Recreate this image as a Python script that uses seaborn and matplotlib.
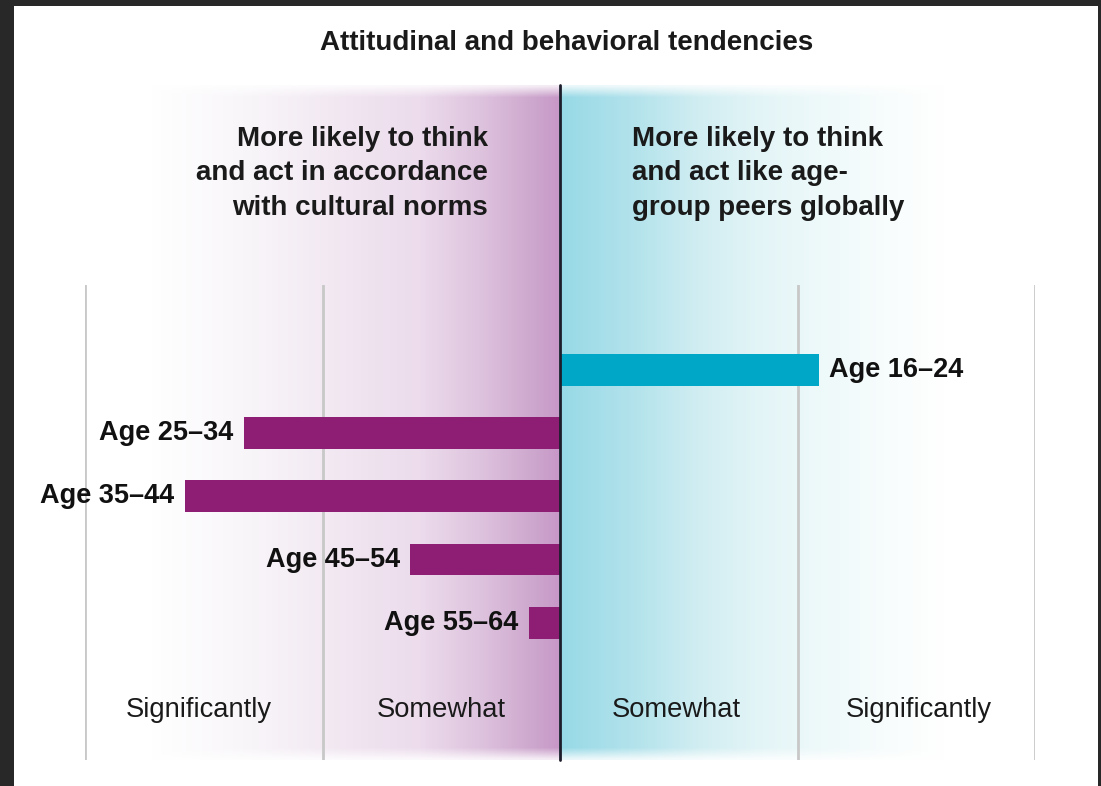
import numpy as np
import pandas as pd
import matplotlib
matplotlib.use("Agg")
import matplotlib.pyplot as plt
from matplotlib.colors import LinearSegmentedColormap, to_rgb
from matplotlib.patches import Rectangle
import seaborn as sns

# ---- data ----
age_groups = ["Age 16\u201324", "Age 25\u201334", "Age 35\u201344", "Age 45\u201354", "Age 55\u201364"]
scores = [1.09, -1.33, -1.58, -0.63, -0.13]
bar_colors = ["#00a7c6", "#8e1d74", "#8e1d74", "#8e1d74", "#8e1d74"]
scale_labels = ["Significantly", "Somewhat", "Somewhat", "Significantly"]
scale_centers = [-1.52, -0.5, 0.49, 1.51]
title = "Attitudinal and behavioral tendencies"
left_header = ["More likely to think", "and act in accordance", "with cultural norms"]
right_header = ["More likely to think", "and act like age-", "group peers globally"]

sns.set_theme(style="white")
plt.rcParams["font.family"] = ["Liberation Sans", "DejaVu Sans"]

W, H = 1101, 786
fig = plt.figure(figsize=(W / 100, H / 100), dpi=100, facecolor="#282828")

# ---- background layer in pixel coordinates ----
bg = fig.add_axes([0, 0, 1, 1])
bg.set_xlim(0, W)
bg.set_ylim(H, 0)
bg.axis("off")
bg.add_patch(Rectangle((14, 6), 1084, 790, facecolor="white", edgecolor="none", zorder=0))

def gradient_image(stops, width, height, fade=6):
    cmap = LinearSegmentedColormap.from_list("g", [(p, to_rgb(c)) for p, c in stops])
    row = cmap(np.linspace(0, 1, width))
    img = np.repeat(row[None, :, :], height, axis=0)
    alpha = np.ones(height)
    alpha[:fade] = np.linspace(0.2, 1, fade)
    alpha[-fade:] = np.linspace(1, 0.2, fade)
    img[:, :, 3] = alpha[:, None]
    return img

top_px, bot_px, mid_px = 85, 760, 559
left_stops = [(0.0, "#ffffff"), (0.25, "#f8f5f9"), (0.48, "#f1e6f1"),
              (0.66, "#ecdcec"), (0.81, "#dec3de"), (0.95, "#cca5cc"), (1.0, "#c899c8")]
right_stops = [(0.0, "#96d9e6"), (0.2, "#b4e3ec"), (0.37, "#d2eef2"),
               (0.53, "#e4f5f7"), (0.68, "#eef9fa"), (0.88, "#f9fdfd"), (1.0, "#ffffff")]
bg.imshow(gradient_image(left_stops, 400, 300), extent=(150, mid_px, bot_px, top_px),
          aspect="auto", interpolation="bilinear", zorder=1)
bg.imshow(gradient_image(right_stops, 400, 300), extent=(mid_px, 945, bot_px, top_px),
          aspect="auto", interpolation="bilinear", zorder=1)

bg.text(567, 43, title, ha="center", va="center", fontsize=20, fontweight="bold", color="#1a1a1a")
for i, line in enumerate(left_header):
    bg.text(488, 139 + 34.5 * i, line, ha="right", va="center", fontsize=20,
            fontweight="bold", color="#1a1a1a")
for i, line in enumerate(right_header):
    bg.text(632, 139 + 34.5 * i, line, ha="left", va="center", fontsize=20,
            fontweight="bold", color="#1a1a1a")

# ---- main bar chart ----
ax = fig.add_axes([85 / W, (H - 760) / H, 950 / W, 475 / H])
ax.patch.set_alpha(0)
df = pd.DataFrame({"group": age_groups, "score": scores})
sns.barplot(data=df, x="score", y="group", hue="group", order=age_groups,
            hue_order=age_groups, palette=bar_colors, orient="h", width=0.5,
            legend=False, saturation=1, linewidth=0, edgecolor="none", ax=ax, zorder=3)
ax.set_xlim(-2, 2)
ax.set_ylim(6.17, -1.34)

for xv in [-2, -1, 1, 2]:
    ax.axvline(xv, 0, 1, color="#c8c8c8", lw=2, zorder=1)
ax.axvline(0, 0, (bot_px - top_px) / (bot_px - 285), color="#1c1c2a", lw=2,
           clip_on=False, zorder=4)

for cont, name in zip(ax.containers, age_groups):
    ax.bar_label(cont, labels=[name], padding=7.5, fontsize=19.5, fontweight="bold",
                 color="#111111")

tr = ax.get_xaxis_transform()
for xc, lab in zip(scale_centers, scale_labels):
    ax.text(xc, 0.105, lab, transform=tr, ha="center", va="center", fontsize=19.7,
            color="#1a1a1a")

ax.set_xticks([])
ax.set_yticks([])
ax.set_xlabel("")
ax.set_ylabel("")
for s in ax.spines.values():
    s.set_visible(False)

fig.savefig("out.png", dpi=100, facecolor=fig.get_facecolor())
